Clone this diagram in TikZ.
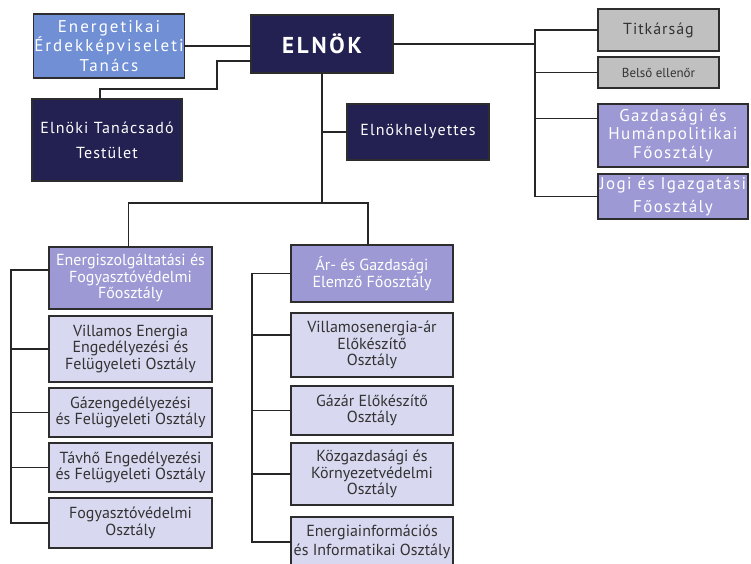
\documentclass[tikz,border=0pt]{standalone}
\usepackage{fontspec}
\setmainfont{PT Sans}
\usetikzlibrary{positioning}

\definecolor{navy}{RGB}{35,32,82}
\definecolor{councilblue}{RGB}{112,143,212}
\definecolor{mainpurple}{RGB}{156,153,212}
\definecolor{sublav}{RGB}{216,216,240}
\definecolor{officegray}{RGB}{192,192,192}
\definecolor{edgegray}{RGB}{45,45,45}

\begin{document}
\begin{tikzpicture}[
      x=1pt, y=-1pt,
      node distance=6pt,
      box/.style={rectangle, draw=edgegray, line width=1.3pt, align=center, inner sep=0.5pt, outer sep=0pt, font=\fontsize{16}{16.5}\selectfont},
      head/.style={box, fill=navy, text=white, font=\fontsize{16}{18}\selectfont\addfontfeatures{LetterSpace=7}},
      council/.style={box, fill=councilblue, text=white, font=\fontsize{17}{19.5}\selectfont\addfontfeatures{LetterSpace=12}},
      dept/.style={box, fill=mainpurple, text=white},
      widedept/.style={dept, font=\fontsize{17}{18.5}\selectfont\addfontfeatures{LetterSpace=8}},
      unit/.style={box, fill=sublav, text=black!80},
      office/.style={box, fill=officegray, text=black!80},
      link/.style={draw=black!85, line width=1.2pt}
    ]

    \clip (0,0) rectangle (751,563);

    % Top level
    \node[head, minimum width=142pt, minimum height=58pt] (elnok) at (322,44)
      {\fontsize{23}{24}\selectfont\bfseries\addfontfeatures{LetterSpace=12}ELNÖK};
    \node[council, minimum width=148pt, minimum height=64pt] (energ) at (109,46) {Energetikai\\Érdekképviseleti\\Tanács};
    \node[head, minimum width=150pt, minimum height=82pt] (tanacsado) at (107,140) {Elnöki Tanácsadó\\[7pt]Testület};
    \node[head, minimum width=142pt, minimum height=56pt] (helyettes) at (418,132) {Elnökhelyettes};

    % Right column
    \node[office, minimum width=121pt, minimum height=42pt, font=\fontsize{16}{18}\selectfont\addfontfeatures{LetterSpace=6}] (titkar) at (658.5,30) {Titkárság};
    \node[office, minimum width=121pt, minimum height=31pt, font=\fontsize{13}{15}\selectfont, below=6pt of titkar] (belso) {Belső ellenőr};
    \node[widedept, minimum width=150pt, minimum height=63pt, below right=16pt and 0pt of belso.south west] (gazd) {Gazdasági és\\Humánpolitikai\\Főosztály};
    \node[widedept, minimum width=150pt, minimum height=45pt, below=7pt of gazd] (jogi) {Jogi és Igazgatási\\[4pt]Főosztály};

    % Left column
    \node[dept, minimum width=163pt, minimum height=62pt] (eszolg) at (130.5,278) {Energiszolgáltatási és\\Fogyasztóvédelmi\\Főosztály};
    \node[unit, minimum width=163pt, minimum height=66pt, below=7pt of eszolg] (villeng) {Villamos Energia\\Engedélyezési és\\Felügyeleti Osztály};
    \node[unit, minimum width=163pt, minimum height=49pt, below=of villeng] (gazeng) {Gázengedélyezési\\és Felügyeleti Osztály};
    \node[unit, minimum width=163pt, minimum height=49pt, below=of gazeng] (tavho) {Távhő Engedélyezési\\és Felügyeleti Osztály};
    \node[unit, minimum width=163pt, minimum height=50pt, below=of tavho] (fogy) {Fogyasztóvédelmi\\Osztály};

    % Middle column
    \node[dept, minimum width=162pt, minimum height=57pt] (argazd) at (372,273.5) {Ár- és Gazdasági\\Elemző Főosztály};
    \node[unit, minimum width=162pt, minimum height=64pt, below=11pt of argazd] (varar) {Villamosenergia-ár\\Előkészítő\\Osztály};
    \node[unit, minimum width=162pt, minimum height=49pt, below=9pt of varar] (gazar) {Gázár Előkészítő\\Osztály};
    \node[unit, minimum width=162pt, minimum height=62pt, below=8pt of gazar] (kozgazd) {Közgazdasági és\\Környezetvédelmi\\Osztály};
    \node[unit, minimum width=162pt, minimum height=50pt, below=12pt of kozgazd] (einfo) {Energiainformációs\\[3pt]és Informatikai Osztály};

    % Connectors from the president
    \draw[link] (energ.east) -- (energ.east -| elnok.west);
    \draw[link] ([yshift=-17pt]elnok.west) -| ++(-34,28) -| ([xshift=-7pt]tanacsado.north);
    \coordinate (split) at (322,203);
    \draw[link] (elnok.south) -- (split);
    \draw[link] (elnok.south |- helyettes.west) -- (helyettes.west);
    \draw[link] ([xshift=-2pt]eszolg.north) |- (split) -| ([xshift=-4pt]argazd.north);

    % Right bus
    \coordinate (rbus) at (535,44);
    \draw[link] (elnok.east) -- (rbus);
    \draw[link] (titkar.west) -| (rbus |- jogi.west) -- (jogi.west);
    \draw[link] (belso.west) -- (belso.west -| rbus);
    \draw[link] ([yshift=17pt]gazd.west) -- ([yshift=17pt]gazd.west -| rbus);

    % Left bus
    \coordinate (lbus) at (11,0);
    \draw[link] ([yshift=8pt]eszolg.west) -| (lbus |- fogy.west) -- (fogy.west);
    \foreach \n in {villeng, gazeng, tavho}
      \draw[link] (\n.west) -- (\n.west -| lbus);

    % Middle bus
    \coordinate (mbus) at (252,0);
    \draw[link] (argazd.west) -| (mbus |- einfo.west) -- (einfo.west);
    \draw[link] ([yshift=10pt]varar.west) -- ([yshift=10pt]varar.west -| mbus);
    \foreach \n in {gazar, kozgazd}
      \draw[link] (\n.west) -- (\n.west -| mbus);

  \end{tikzpicture}
\end{document}
